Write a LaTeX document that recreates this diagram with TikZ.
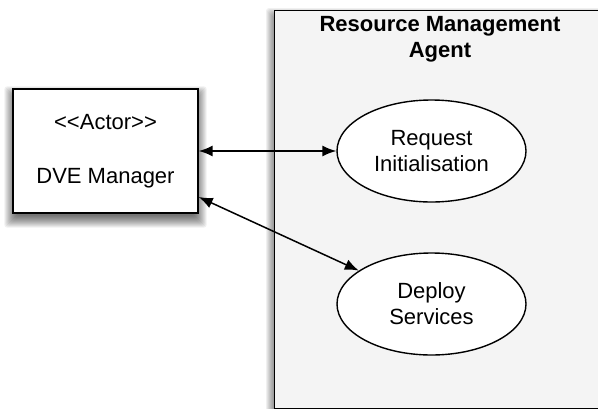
\documentclass[tikz,border=0pt]{standalone}
\usepackage{fontspec}
\setmainfont{Liberation Sans}
\usetikzlibrary{arrows.meta,shapes.geometric,backgrounds}
\definecolor{agentfill}{HTML}{F4F4F4}
\begin{document}
\begin{tikzpicture}[x=1pt,y=-1pt,
  txt/.style={font=\fontsize{22}{26}\selectfont, align=center, inner sep=0pt},
  agentbox/.style={draw=black, line width=1.4pt, fill=agentfill, inner sep=0pt},
  actorbox/.style={txt, draw=black, line width=1.4pt, fill=white},
  usecase/.style={txt, ellipse, draw=black, line width=1.4pt, fill=white,
      minimum width=189pt, minimum height=102pt},
  link/.style={line width=1.5pt,
      {Latex[length=14pt,width=11pt]}-{Latex[length=14pt,width=11pt]}},
  shadelayer/.style={fill=black, opacity=0.06, rounded corners=3pt}
]
\useasboundingbox (0,0) rectangle (598,408);
\clip (0,0) rectangle (598,408);

% system boundary (runs off the right edge)
\node[agentbox, anchor=north west, minimum width=332pt, minimum height=397.5pt]
  (agent) at (274,10) {};
\node[txt, font=\fontsize{22}{26}\selectfont\bfseries] (title) at (440,39.5)
  {Resource Management\\Agent};

% actor
\node[actorbox, minimum width=185pt, minimum height=124pt] (actor) at (105.5,151)
  {{<}{<}Actor{>}{>}\\[28pt]DVE Manager};

% use cases
\node[usecase] (uc1) at (431.5,151) {Request\\Initialisation};
\node[usecase] (uc2) at (431.5,304) {Deploy\\Services};

% associations
\draw[link] (actor.east) -- (uc1.west);
\draw[link] ([yshift=-46pt]actor.east) -- (uc2);

% soft drop shadows, built from stacked translucent layers
\begin{scope}[on background layer]
  \foreach \r in {8,7,...,-4} {
    \fill[shadelayer] ([shift={(-\r,6-\r)}]actor.north west)
      rectangle ([shift={(\r,6+\r)}]actor.south east);
    \fill[shadelayer] ([shift={(-\r,6-\r)}]agent.north west)
      rectangle ([shift={(\r,6+\r)}]agent.south east);
  }
\end{scope}
\end{tikzpicture}
\end{document}
